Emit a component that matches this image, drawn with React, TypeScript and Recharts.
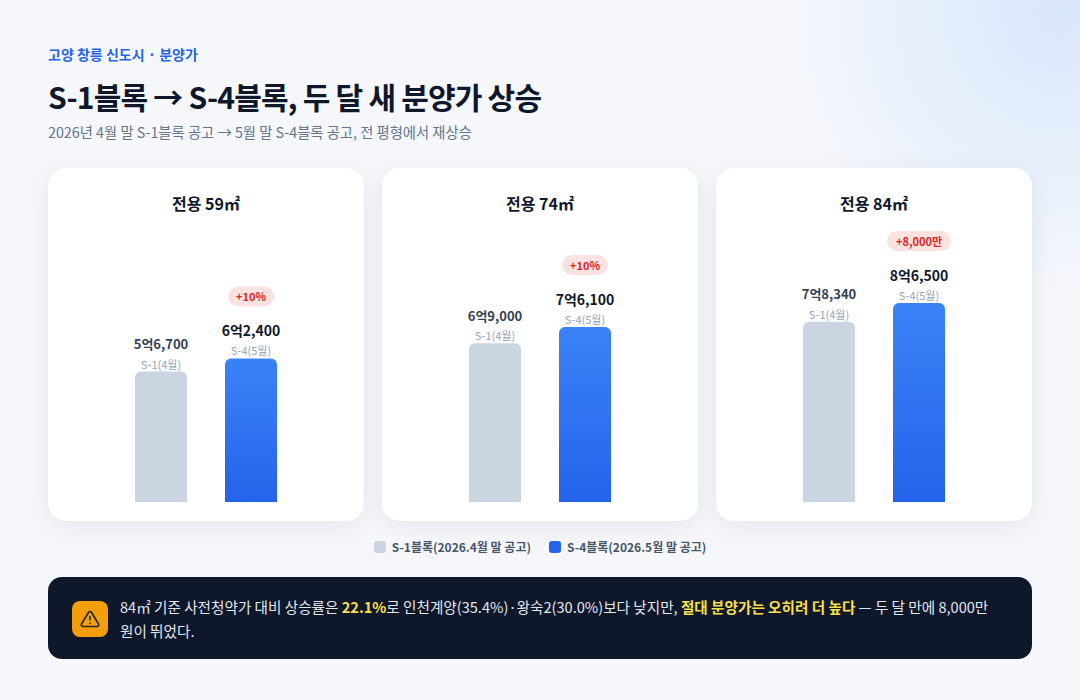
import React from "react"
import { Bar, BarChart, Cell, LabelList, XAxis, YAxis } from "recharts"

// 분양가 (만원)
const sizeLabels = ["전용 59㎡", "전용 74㎡", "전용 84㎡"]
const blockLabels = ["S-1(4월)", "S-4(5월)"]
const s1Prices = [56700, 69000, 78340]
const s4Prices = [62400, 76100, 86500]
const changeLabels = ["+10%", "+10%", "+8,000만"]
const legendLabels = ["S-1블록(2026.4월 말 공고)", "S-4블록(2026.5월 말 공고)"]
const yDomain = [0, 100000]

const FONT = '"Noto Sans CJK KR", "Noto Sans", sans-serif'

const fmtPrice = (v: number) => {
  const eok = Math.floor(v / 10000)
  const rest = v % 10000
  return `${eok}억${rest.toLocaleString("en-US")}`
}

function BarLabel(props: any) {
  const { x, y, width, index, value, change } = props
  const cx = x + width / 2
  const isNew = index === 1
  const badgeW = change.length > 4 ? 64 : 46
  return (
    <g fontFamily={FONT}>
      {isNew && (
        <g>
          <rect x={cx - badgeW / 2} y={y - 72} width={badgeW} height={20} rx={10} fill="#fee2e2" />
          <text x={cx} y={y - 62} textAnchor="middle" dominantBaseline="central" fontSize={11} fontWeight={700} fill="#dc2626">
            {change}
          </text>
        </g>
      )}
      <text
        x={cx}
        y={y - 28}
        textAnchor="middle"
        dominantBaseline="central"
        fontSize={isNew ? 14 : 13}
        fontWeight={700}
        fill={isNew ? "#0f172a" : "#334155"}
      >
        {fmtPrice(value)}
      </text>
      <text x={cx} y={y - 8} textAnchor="middle" dominantBaseline="central" fontSize={11} fill="#94a3b8">
        {blockLabels[index]}
      </text>
    </g>
  )
}

function SizeCard({ i }: { i: number }) {
  const data = [
    { name: blockLabels[0], value: s1Prices[i] },
    { name: blockLabels[1], value: s4Prices[i] },
  ]
  const gid = `newGrad${i}`
  return (
    <div
      style={{
        position: "relative",
        width: 316,
        height: 353,
        background: "#fff",
        borderRadius: 18,
        boxShadow: "0 6px 24px rgba(15,23,42,0.07)",
      }}
    >
      <div
        style={{
          position: "absolute",
          top: 24,
          left: 0,
          right: 0,
          textAlign: "center",
          fontSize: 16,
          fontWeight: 700,
          color: "#0f172a",
          lineHeight: "22px",
        }}
      >
        {sizeLabels[i]}
      </div>
      <BarChart width={316} height={353} data={data} margin={{ top: 104, right: 68, bottom: 19, left: 68 }}>
        <defs>
          <linearGradient id={gid} x1="0" y1="0" x2="0" y2="1">
            <stop offset="0%" stopColor="#3b82f6" />
            <stop offset="100%" stopColor="#2563eb" />
          </linearGradient>
        </defs>
        <XAxis dataKey="name" hide />
        <YAxis hide domain={yDomain} />
        <Bar dataKey="value" barSize={52} radius={[6, 6, 0, 0]} isAnimationActive={false}>
          {data.map((_, j) => (
            <Cell key={j} fill={j === 0 ? "#cbd5e1" : `url(#${gid})`} />
          ))}
          <LabelList dataKey="value" content={(p: any) => <BarLabel {...p} change={changeLabels[i]} />} />
        </Bar>
      </BarChart>
    </div>
  )
}

export default function App() {
  return (
    <div
      style={{
        position: "fixed",
        left: 0,
        top: 0,
        width: 1080,
        height: 700,
        overflow: "hidden",
        fontFamily: FONT,
        background: "radial-gradient(circle at 98% 2%, #d9e7fb 0px, rgba(219,232,251,0) 280px), #f5f7fb",
      }}
    >
      <div style={{ position: "absolute", left: 48, top: 44, fontSize: 14, fontWeight: 700, color: "#2563eb", lineHeight: "20px" }}>
        고양 창릉 신도시 · 분양가
      </div>
      <div
        style={{
          position: "absolute",
          left: 48,
          top: 76,
          fontSize: 30,
          fontWeight: 700,
          color: "#0f172a",
          lineHeight: "40px",
          letterSpacing: -0.8,
        }}
      >
        S-1블록 → S-4블록, 두 달 새 분양가 상승
      </div>
      <div style={{ position: "absolute", left: 48, top: 122, fontSize: 14.3, color: "#64748b", lineHeight: "20px" }}>
        2026년 4월 말 S-1블록 공고 → 5월 말 S-4블록 공고, 전 평형에서 재상승
      </div>

      <div style={{ position: "absolute", left: 48, top: 168, display: "flex", gap: 18 }}>
        {sizeLabels.map((_, i) => (
          <SizeCard key={i} i={i} />
        ))}
      </div>

      <div
        style={{
          position: "absolute",
          left: 0,
          width: 1080,
          top: 537,
          display: "flex",
          justifyContent: "center",
          gap: 18,
          fontSize: 12,
          fontWeight: 700,
          color: "#475569",
          lineHeight: "20px",
        }}
      >
        {legendLabels.map((l, j) => (
          <div key={j} style={{ display: "flex", alignItems: "center", gap: 6 }}>
            <span style={{ width: 12, height: 12, borderRadius: 3, background: j === 0 ? "#cbd5e1" : "#2563eb", display: "inline-block" }} />
            {l}
          </div>
        ))}
      </div>

      <div
        style={{
          position: "absolute",
          left: 48,
          top: 577,
          width: 984,
          height: 82,
          boxSizing: "border-box",
          background: "#0f172a",
          borderRadius: 14,
          display: "flex",
          padding: "18px 24px 0 24px",
          gap: 12,
        }}
      >
        <div
          style={{
            flex: "0 0 36px",
            height: 36,
            marginTop: 6,
            borderRadius: 8,
            background: "#f59e0b",
            display: "flex",
            alignItems: "center",
            justifyContent: "center",
          }}
        >
          <svg width={20} height={20} viewBox="0 0 24 24" fill="none" stroke="#1f2937" strokeWidth={2} strokeLinecap="round" strokeLinejoin="round">
            <path d="M10.3 3.9 1.8 18a2 2 0 0 0 1.7 3h17a2 2 0 0 0 1.7-3L13.7 3.9a2 2 0 0 0-3.4 0z" />
            <line x1="12" y1="9" x2="12" y2="13" />
            <line x1="12" y1="17" x2="12.01" y2="17" />
          </svg>
        </div>
        <div style={{ fontSize: 14.6, color: "#e2e8f0", lineHeight: "24px", width: 890, wordBreak: "keep-all" }}>
          84㎡ 기준 사전청약가 대비 상승률은 <b style={{ color: "#fde047" }}>22.1%</b>로 인천계양(35.4%)·왕숙2(30.0%)보다 낮지만,{" "}
          <b style={{ color: "#fde047" }}>절대 분양가는 오히려 더 높다</b> — 두 달 만에 8,000만 원이 뛰었다.
        </div>
      </div>
    </div>
  )
}
